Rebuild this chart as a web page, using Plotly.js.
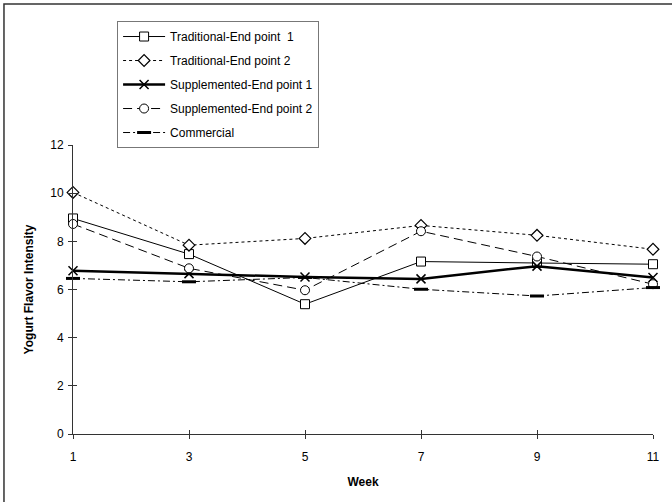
<!DOCTYPE html>
<html>
<head>
<meta charset="utf-8">
<script src="https://cdn.plot.ly/plotly-3.0.1.min.js"></script>
<style>html,body{margin:0;padding:0;background:#fff;}#chart{width:672px;height:502px;}</style>
</head>
<body>
<div id="chart"></div>
<script>
const weeks = [1, 3, 5, 7, 9, 11];
const traditional1 = [8.95, 7.47, 5.39, 7.16, 7.1, 7.05];
const traditional2 = [10.03, 7.84, 8.12, 8.66, 8.25, 7.67];
const supplemented1 = [6.78, 6.66, 6.52, 6.44, 6.97, 6.5];
const supplemented2 = [8.72, 6.88, 5.97, 8.42, 7.37, 6.22];
const commercial = [6.46, 6.32, 6.5, 6.01, 5.73, 6.08];
const seriesNames = ["Traditional-End point  1", "Traditional-End point 2", "Supplemented-End point 1", "Supplemented-End point 2", "Commercial"];
const xTicks = [1, 3, 5, 7, 9, 11];
const yTicks = [0, 2, 4, 6, 8, 10, 12];

const font = "Liberation Sans, Arial, sans-serif";
function tr(y, i, line, marker) {
  return {x: weeks, y: y, name: seriesNames[i], type: "scatter", mode: "lines+markers",
    legendgroup: "g" + i, line: line, marker: marker, cliponaxis: false};
}
const data = [
  tr(traditional1, 0, {color: "#000", width: 1}, {symbol: "square", size: 9, color: "#fff", line: {color: "#000", width: 1}}),
  tr(traditional2, 1, {color: "#000", width: 1, dash: "3px,3px"}, {symbol: "diamond", size: 9, color: "#fff", line: {color: "#000", width: 1.2}}),
  tr(supplemented1, 2, {color: "#000", width: 2.5}, {symbol: "x-thin", size: 9, color: "#000", line: {color: "#000", width: 1.5}}),
  tr(supplemented2, 3, {color: "#000", width: 1, dash: "9px,5px"}, {symbol: "circle", size: 9, color: "#fff", line: {color: "#000", width: 1}}),
  tr(commercial, 4, {color: "#000", width: 1, dash: "7px,3px,2px,3px"}, {symbol: "line-ew", size: 10, color: "#000", line: {color: "#000", width: 3}})
];
// invisible helper trace for crossing ticks
data.push({x: [1], y: [0], xaxis: "x2", yaxis: "y2", mode: "markers", marker: {opacity: 0}, showlegend: false, hoverinfo: "skip"});

const layout = {
  width: 672, height: 502,
  margin: {l: 73, r: 19, t: 145, b: 68},
  paper_bgcolor: "#fff", plot_bgcolor: "#fff",
  font: {family: font, size: 12, color: "#000"},
  showlegend: true,
  legend: {x: 0.076, y: 1.429, xanchor: "left", yanchor: "top", bgcolor: "#fff",
    bordercolor: "#777", borderwidth: 1, font: {family: font, size: 12, color: "#000"},
    tracegroupgap: 5, itemwidth: 42, traceorder: "grouped"},
  xaxis: {range: [1, 11], tickvals: xTicks, ticktext: xTicks.map(String), ticks: "outside", ticklen: 4,
    tickcolor: "#333", showline: true, linecolor: "#333", linewidth: 1, showgrid: false, zeroline: false,
    ticklabelstandoff: 8, tickfont: {family: font, size: 12},
    title: {text: "<b>Week</b>", font: {family: font, size: 12}, standoff: 14}},
  yaxis: {range: [0, 12], tickvals: yTicks, ticks: "outside", ticklen: 4, tickcolor: "#333",
    showline: true, linecolor: "#333", linewidth: 1, showgrid: false, zeroline: false,
    tickfont: {family: font, size: 12}, ticklabelstandoff: 2,
    title: {text: "<b>Yogurt Flavor Intensity</b>", font: {family: font, size: 12}, standoff: 14}},
  xaxis2: {range: [1, 11], overlaying: "x", tickvals: xTicks, ticks: "inside", ticklen: 4, tickcolor: "#333",
    showticklabels: false, showline: false, showgrid: false, zeroline: false, side: "bottom", anchor: "y2"},
  yaxis2: {range: [0, 12], overlaying: "y", tickvals: yTicks, ticks: "inside", ticklen: 4, tickcolor: "#333",
    showticklabels: false, showline: false, showgrid: false, zeroline: false, side: "left", anchor: "x2"},
  shapes: [{type: "rect", xref: "paper", yref: "paper", x0: -0.119, x1: 2, y0: -1, y1: 1.488,
    line: {color: "#333", width: 1.5}, fillcolor: "rgba(0,0,0,0)", layer: "below"}]
};
Plotly.newPlot("chart", data, layout, {displayModeBar: false, staticPlot: true});
</script>
</body>
</html>
